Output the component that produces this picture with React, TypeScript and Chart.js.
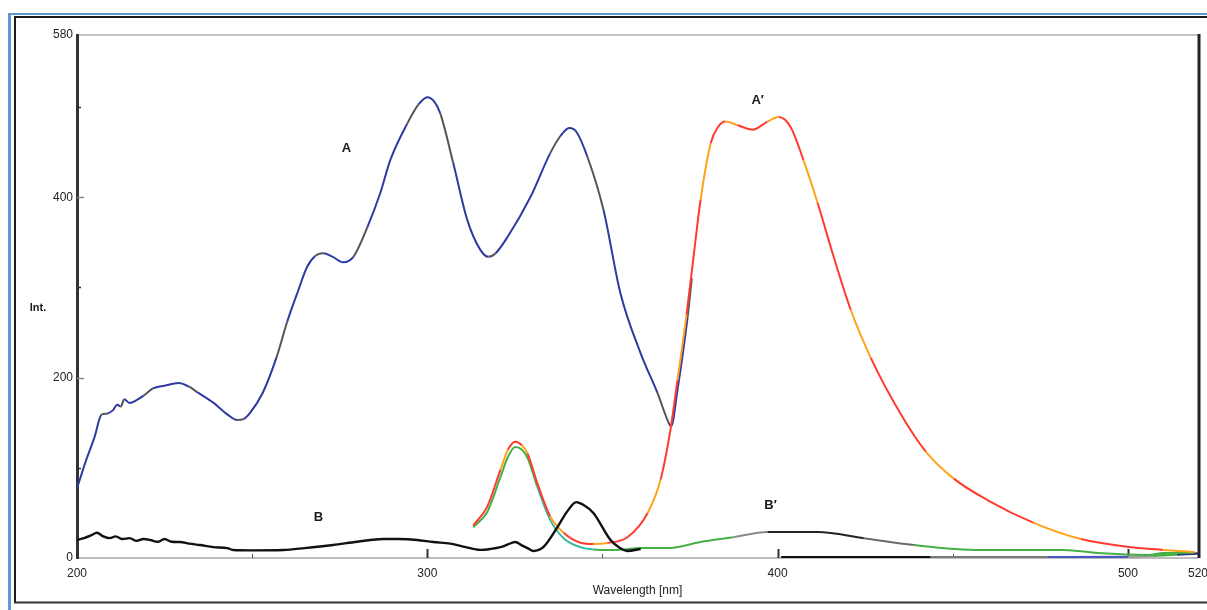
import React, { useEffect, useRef } from "react";
import { Chart, registerables } from "chart.js";

Chart.register(...registerables);

// ---- Axis ticks ----
const xTickValues = [200, 300, 400, 500, 520];
const xMinorTicks = [250, 350, 450];
const yTickValues = [0, 200, 400, 580];
const yMinorTicks = [100, 300, 500];

// ---- Curve A (excitation, blue) ----
const aWavelength = [
  200, 202.3, 205, 207, 208.5, 210.3, 211.5, 212.5, 213.5, 215, 217, 219, 221.7, 225, 229, 232, 234.3,
  239, 243, 245.7, 247.5, 249.4, 253, 257, 260, 263, 265.7, 268, 270.3, 273, 276, 278.9, 282.9, 286.6,
  289.4, 294.3, 297.5, 300, 302, 303.7, 307.4, 311.4, 315.1, 317.4, 319.5, 322.9, 329.4, 335.1, 338,
  340.5, 342.5, 345.7, 350.3, 355.1, 360.9, 365.7, 368.9, 369.6, 371.4, 374.3, 375.5,
];
const aIntensity = [
  77, 105, 134, 159, 160, 164, 170, 168, 176, 172, 175, 180, 188, 191, 194, 190, 184,
  172, 159, 153, 154, 161, 183, 223, 262, 295, 323, 335, 338, 334, 328, 334, 367, 405,
  441, 482, 503, 511, 506, 493, 438, 375, 342, 334, 338, 356, 400, 449, 468,
  477, 473, 445, 386, 294, 227, 183, 150, 146, 186, 267, 310,
];

// ---- Curve A' (emission, red/orange) ----
const aPrimeWavelength = [
  313.1, 317.1, 320.9, 323, 325.1, 327, 328.6, 331.4, 335.1, 338.9, 343.7, 347.5, 351.4, 357.1, 362.9,
  366.6, 369.4, 371.4, 374, 376, 378, 380.9, 383, 385.1, 388.6, 392.9, 397.1, 400.3, 403.7, 407.4,
  411.4, 416, 420.9, 426.6, 435.1, 442.3, 450.3, 460, 473.1, 486.6, 500.9, 510, 519,
];
const aPrimeIntensity = [
  36, 57, 98, 120, 129, 125, 116, 83, 46, 28, 17, 15.5, 16.6, 23, 50,
  87, 142, 197, 270, 334, 397, 460, 478, 484, 480, 475, 484, 489, 478, 441,
  394, 334, 275, 222, 160, 118, 88, 64, 39, 21, 12, 9, 6.7,
];

// ---- Curve B' (green) ----
const bPrimeWavelength = [
  313.1, 317.1, 320.9, 323, 325.1, 327, 328.6, 331.4, 335.1, 338.9, 343.7, 347.5, 351.4, 356, 360.9,
  368.6, 378, 387.4, 397.1, 406.6, 411.4, 424.6, 438.9, 458, 481.7, 491.4, 505.7, 510, 519,
];
const bPrimeIntensity = [
  34, 51, 90, 112, 123, 120, 111, 79, 42, 22, 12, 9.5, 8.9, 9.5, 11,
  11, 17.7, 23, 28.8, 28.8, 28.8, 22, 14.4, 8.9, 8.9, 5.5, 3.3, 5.5, 6,
];

// ---- Curve B (black) ----
const bWavelength = [
  200, 202, 204, 205.7, 207.5, 209.4, 211, 213, 215, 217, 219, 220.9, 223, 225, 227, 229.4, 232,
  235.1, 239, 242.9, 244.6, 250, 258.9, 265, 273.1, 280, 287.4, 292, 297.1, 301.7, 306.6, 311, 315.1,
  318, 320.9, 323, 325.1, 327, 328.6, 330.3, 333.1, 337.1, 340, 342.5, 344.5, 347.4, 352.3, 355, 357.1,
  360.9,
];
const bIntensity = [
  20, 22, 25, 28, 24, 22, 24, 21, 22, 19, 21, 20, 18, 21, 18, 17.7, 16,
  14.4, 12, 11, 8.9, 8.5, 8.9, 11, 14.4, 18, 21, 21, 20, 17.7, 16, 12, 9,
  10, 12, 15, 17.7, 14, 11, 7.8, 12, 34, 52, 62, 59, 50, 20, 11, 7.8,
  10,
];

// ---- Near-zero baseline traces ----
const baseWavelength = [401, 443.7, 477, 500, 507, 514, 520];
const baseIntensity = [0.8, 0.8, 0.8, 1.2, 2.5, 4, 5];

// ---- Curve labels ----
const curveLabels = ["A", "A\u2032", "B", "B\u2032"];
const curveLabelWavelength = [276.9, 394.3, 268.9, 398];
const curveLabelIntensity = [454.7, 508, 45.5, 58.8];

const toPoints = (xs: number[], ys: number[]) => xs.map((x, i) => ({ x, y: ys[i] }));

const FONT = "'Liberation Sans', Arial, sans-serif";

const framePlugin = {
  id: "framePlugin",
  beforeDatasetsDraw(chart: any) {
    const { ctx, chartArea } = chart;
    const { left, right, top, bottom } = chartArea;
    const xs = chart.scales.x;
    const ys = chart.scales.y;
    const line = (x1: number, y1: number, x2: number, y2: number, c: string, w: number) => {
      ctx.beginPath();
      ctx.strokeStyle = c;
      ctx.lineWidth = w;
      ctx.moveTo(x1, y1);
      ctx.lineTo(x2, y2);
      ctx.stroke();
    };
    ctx.save();
    line(left, top, right + 2, top, "#c4c4c4", 2);
    line(left, bottom, right, bottom, "#bdbdbd", 2);
    line(left + 0.5, top - 1, left + 0.5, bottom + 1, "#333333", 3);
    line(right + 1, top - 1, right + 1, bottom, "#222222", 3);
    xTickValues.forEach((v) => {
      if (v === 200 || v === 520) return;
      const px = Math.round(xs.getPixelForValue(v)) + 0.5;
      line(px, bottom - 9, px, bottom, "#333", 2);
    });
    xMinorTicks.forEach((v) => {
      const px = Math.round(xs.getPixelForValue(v)) + 0.5;
      line(px, bottom - 4, px, bottom, "#555", 1);
    });
    [200, 400].forEach((v) => {
      const py = Math.round(ys.getPixelForValue(v)) + 0.5;
      line(left, py, left + 7, py, "#888", 1.5);
    });
    yMinorTicks.forEach((v) => {
      const py = Math.round(ys.getPixelForValue(v)) + 0.5;
      line(left, py, left + 4, py, "#333", 1.5);
    });
    ctx.restore();
  },
  afterDraw(chart: any) {
    const { ctx } = chart;
    const xs = chart.scales.x;
    const ys = chart.scales.y;
    ctx.save();
    const line = (x1: number, y1: number, x2: number, y2: number, c: string, w: number) => {
      ctx.beginPath();
      ctx.strokeStyle = c;
      ctx.lineWidth = w;
      ctx.moveTo(x1, y1);
      ctx.lineTo(x2, y2);
      ctx.stroke();
    };
    line(9.5, 13, 9.5, 610, "#5b9bd5", 3);
    line(8, 14, 1207, 14, "#5b9bd5", 2);
    line(15, 16, 15, 603, "#1a1a1a", 2);
    line(14, 17, 1207, 17, "#1a1a1a", 2);
    line(14, 602.5, 1207, 602.5, "#333333", 2);
    ctx.fillStyle = "#1a1a1a";
    ctx.font = `bold 11px ${FONT}`;
    ctx.textAlign = "center";
    ctx.textBaseline = "middle";
    ctx.fillText("Int.", 38, 308);
    ctx.font = `bold 13px ${FONT}`;
    curveLabels.forEach((t, i) => {
      ctx.fillText(
        t,
        xs.getPixelForValue(curveLabelWavelength[i]),
        ys.getPixelForValue(curveLabelIntensity[i])
      );
    });
    ctx.restore();
  },
};

const altColor = (a: string, b: string, n: number) => (ctx: any) =>
  ctx.p0DataIndex % n === n - 1 ? b : a;

export default function App() {
  const canvasRef = useRef<HTMLCanvasElement | null>(null);

  useEffect(() => {
    if (!canvasRef.current) return;
    const greenColor = (ctx: any) => {
      const x = ctx.p0.parsed.x;
      if (x >= 395 && x < 414) return "#222222";
      if (x >= 386 && x < 395) return "#8a8a8a";
      if (x >= 414 && x < 426) return "#6a6a6a";
      if (x >= 330 && x < 345) return "#39b8a0";
      return "#45b045";
    };
    const baseColors = ["#111111", "#7a7a7a", "#4a58c0", "#9a9a9a", "#45b045", "#2a3a7a"];
    const chart = new Chart(canvasRef.current, {
      type: "line",
      data: {
        datasets: [
          {
            label: "B",
            data: toPoints(bWavelength, bIntensity),
            borderColor: "#111111",
            borderWidth: 2.4,
            pointRadius: 0,
            cubicInterpolationMode: "monotone",
          },
          {
            label: "A'",
            data: toPoints(aPrimeWavelength, aPrimeIntensity),
            borderColor: "#ff3b30",
            borderWidth: 2,
            pointRadius: 0,
            cubicInterpolationMode: "monotone",
            segment: { borderColor: altColor("#ff3b30", "#ffa31a", 3) },
          },
          {
            label: "B'",
            data: toPoints(bPrimeWavelength, bPrimeIntensity),
            borderColor: "#45b045",
            borderWidth: 2,
            pointRadius: 0,
            cubicInterpolationMode: "monotone",
            segment: { borderColor: greenColor },
          },
          {
            label: "A",
            data: toPoints(aWavelength, aIntensity),
            borderColor: "#2f3aa0",
            borderWidth: 2,
            pointRadius: 0,
            cubicInterpolationMode: "monotone",
            segment: { borderColor: altColor("#2f3aa0", "#555555", 4) },
          },
          {
            label: "baseline",
            data: toPoints(baseWavelength, baseIntensity),
            borderColor: "#111111",
            borderWidth: 2.5,
            pointRadius: 0,
            tension: 0,
            segment: { borderColor: (ctx: any) => baseColors[ctx.p0DataIndex] || "#111" },
          },
        ],
      },
      options: {
        responsive: false,
        animation: false,
        layout: { padding: { left: 0, right: 9, top: 35, bottom: 0 } },
        plugins: { legend: { display: false }, tooltip: { enabled: false } },
        scales: {
          x: {
            type: "linear",
            min: 200,
            max: 520,
            afterFit: (scale: any) => {
              scale.height = 52;
              scale.paddingLeft = 0;
              scale.paddingRight = 0;
            },
            afterBuildTicks: (scale: any) => {
              scale.ticks = xTickValues.map((v) => ({ value: v }));
            },
            ticks: {
              autoSkip: false,
              maxRotation: 0,
              padding: 8,
              color: "#222",
              font: { family: FONT, size: 12 },
              callback: (v: any) => String(v),
            },
            grid: { display: false, drawTicks: false },
            border: { display: false },
            title: {
              display: true,
              text: "Wavelength [nm]",
              color: "#222",
              font: { family: FONT, size: 12 },
              padding: { top: 0, bottom: 12 },
            },
          },
          y: {
            type: "linear",
            min: 0,
            max: 580,
            afterFit: (scale: any) => {
              scale.width = 77;
              scale.paddingTop = 0;
              scale.paddingBottom = 0;
            },
            afterBuildTicks: (scale: any) => {
              scale.ticks = yTickValues.map((v) => ({ value: v }));
            },
            ticks: {
              autoSkip: false,
              padding: 4,
              color: "#222",
              font: { family: FONT, size: 12 },
              callback: (v: any) => String(v),
            },
            grid: { display: false, drawTicks: false },
            border: { display: false },
          },
        },
      },
      plugins: [framePlugin],
    } as any);
    return () => chart.destroy();
  }, []);

  return (
    <div style={{ position: "absolute", left: 0, top: 0, width: 1207, height: 610, background: "#fff" }}>
      <canvas ref={canvasRef} width={1207} height={610} style={{ display: "block" }} />
    </div>
  );
}
